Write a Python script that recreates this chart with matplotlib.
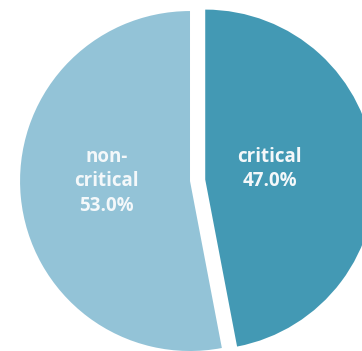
import matplotlib.pyplot as plt

# slices, clockwise from 12 o'clock
labels = ['critical', 'non-\ncritical']
values = [47.0, 53.0]
colors = ['#4399B4', '#93C3D7']
explode = [0.09, 0.0]

fig = plt.figure(figsize=(3.62, 3.51), dpi=100)
ax = fig.add_axes([0, 0, 1, 1])

wedges, texts, autotexts = ax.pie(values, colors=colors, explode=explode,
                                  startangle=90, counterclock=False,
                                  radius=1.0,
                                  autopct='%.1f%%', pctdistance=0.45,
                                  wedgeprops=dict(linewidth=0))

# labels inside the slices, like the original
label_pos = [(0.47, 0.07), (-0.49, 0.0)]
for t, lab, pos in zip(autotexts, labels, label_pos):
    t.set_text(lab + '\n' + t.get_text())
    t.set_position(pos)
    t.set_color('#F4F8FA')
    t.set_fontweight('bold')
    t.set_fontsize(13.5)
    t.set_family('Open Sans')
    t.set_linespacing(1.3)
    t.set_ha('center')
    t.set_va('center')

ax.set_xlim(-1.118, 1.012)
ax.set_ylim(-1.0, 1.065)
ax.set_aspect('auto')
ax.axis('off')

fig.savefig('out.png', dpi=100)
